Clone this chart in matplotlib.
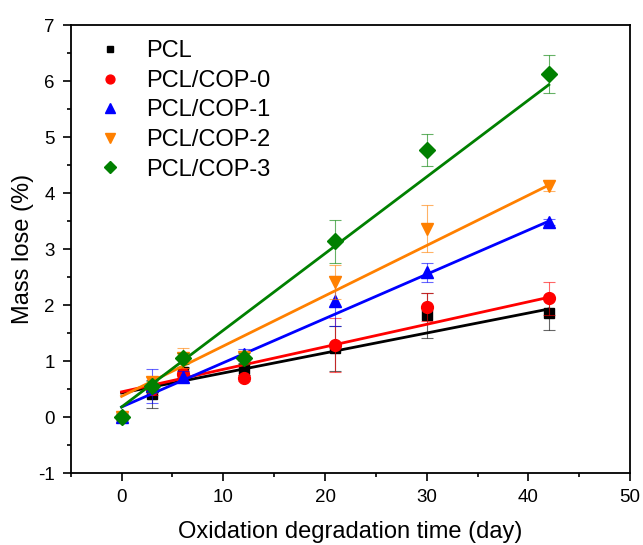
import numpy as np
import matplotlib
matplotlib.use("Agg")
import matplotlib.pyplot as plt

plt.rcParams['font.family'] = ['Liberation Sans', 'DejaVu Sans']
plt.rcParams['axes.unicode_minus'] = False

days = [0, 3, 6, 12, 21, 30, 42]
names = ["PCL", "PCL/COP-0", "PCL/COP-1", "PCL/COP-2", "PCL/COP-3"]

pcl = [0, 0.42, 0.80, 0.86, 1.23, 1.82, 1.85]
pcl_err = [0, 0.25, 0.10, 0.10, 0.40, 0.40, 0.30]
cop0 = [0, 0.50, 0.77, 0.70, 1.29, 1.96, 2.12]
cop0_err = [0, 0.10, 0.10, 0.05, 0.48, 0.25, 0.30]
cop1 = [0, 0.55, 0.72, 1.12, 2.07, 2.59, 3.48]
cop1_err = [0, 0.30, 0.10, 0.10, 0.45, 0.17, 0.05]
cop2 = [0, 0.62, 1.05, 1.08, 2.41, 3.36, 4.13]
cop2_err = [0, 0.10, 0.18, 0.08, 0.30, 0.42, 0.10]
cop3 = [0, 0.55, 1.05, 1.05, 3.14, 4.77, 6.12]
cop3_err = [0, 0.10, 0.10, 0.10, 0.38, 0.28, 0.34]

# linear fits as drawn in the figure (slope, intercept)
fit_slope = [0.0357, 0.0402, 0.0790, 0.0898, 0.1370]
fit_icept = [0.43, 0.45, 0.18, 0.37, 0.18]

series = [pcl, cop0, cop1, cop2, cop3]
errs = [pcl_err, cop0_err, cop1_err, cop2_err, cop3_err]
colors = ["black", "#FF0000", "#0000FF", "#FF8000", "#008000"]
markers = ["s", "o", "^", "v", "D"]
msizes = [6.5, 8.5, 9, 9, 8.5]

fig = plt.figure(figsize=(6.43, 5.45), dpi=100)
ax = fig.add_axes([0.110, 0.132, 0.870, 0.822])

x = np.array(days)
xfit = np.array([0, 42])
for i in range(len(series)):
    c = colors[i]
    ax.errorbar(x, series[i], yerr=errs[i], fmt="none", ecolor=c,
                elinewidth=0.8, capsize=4, capthick=0.8, alpha=0.6)
    ax.plot(xfit, fit_slope[i] * xfit + fit_icept[i], color=c, lw=2)
    ax.plot(x, series[i], ls="none", marker=markers[i], color=c,
            ms=msizes[i], label=names[i])

ax.set_xlim(-5, 50)
ax.set_ylim(-1, 7)
ax.set_xticks(range(0, 51, 10))
ax.set_yticks(range(-1, 8))
ax.set_xticks(range(-5, 51, 5), minor=True)
ax.set_yticks(np.arange(-1, 7.01, 0.5), minor=True)
ax.tick_params(which="both", direction="out", top=False, right=False,
               labelsize=13.5, width=1.2)
ax.tick_params(which="major", length=6, pad=5.5)
ax.tick_params(which="minor", length=3)
for s in ax.spines.values():
    s.set_linewidth(1.3)

ax.set_xlabel("Oxidation degradation time (day)", fontsize=17, labelpad=11)
ax.set_ylabel("Mass lose (%)", fontsize=17, labelpad=3)

ax.legend(loc="upper left", bbox_to_anchor=(0.021, 0.987), frameon=False,
          fontsize=17, handletextpad=0.78, labelspacing=0.32,
          borderaxespad=0, markerscale=0.75, handlelength=1.5)

fig.savefig("out.png", dpi=100)
